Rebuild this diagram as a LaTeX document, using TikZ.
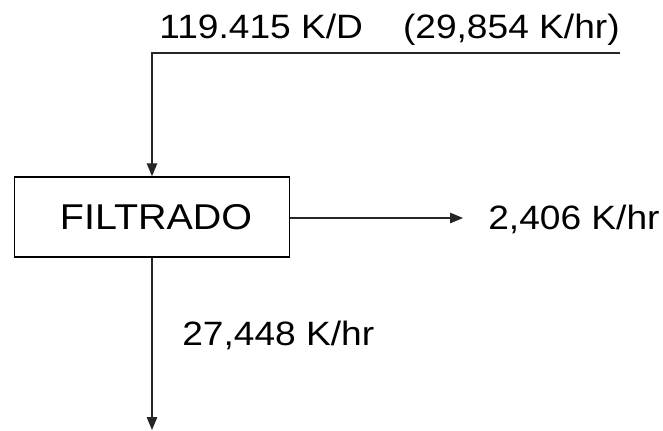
\documentclass[tikz,border=0pt]{standalone}
\usepackage{fontspec}
\setmainfont{Liberation Sans}[FakeStretch=1.1]
\usetikzlibrary{positioning, arrows.meta, calc}
\tikzset{
  flujo/.style={-{Triangle[length=3.2mm, width=2.6mm]}, line width=0.8pt, color=black!85},
  rotulo/.style={font=\fontsize{24}{28}\selectfont, inner sep=0pt}
}
\begin{document}
\begin{tikzpicture}[x=0.025cm, y=-0.025cm]
    \useasboundingbox (0,0) rectangle (663,430);
    % ENTRADA
    \node[rotulo, anchor=base east] (entra) at (620,38) {119.415 K/D\hspace{1cm}(29,854 K/hr)};
    \coordinate (ini) at (620,53);
    \coordinate (esq) at (152,53);
    % FILTRO
    \node[draw, line width=1.1pt, rotulo, font=\fontsize{25.5}{30}\selectfont,
          minimum width=6.875cm, minimum height=2cm] (filtro) at (152,217) {\hspace{0.2cm}FILTRADO};
    \draw[flujo] (ini) -- (esq) -- (filtro.north);
    % SALIDA LATERAL
    \coordinate (lado) at (463,218);
    \draw[flujo] (filtro.east |- lado) -- (lado);
    \node[rotulo, anchor=west] (lateral) at (488,219) {2,406 K/hr};
    % SALIDA INFERIOR
    \coordinate (fondo) at (152,430);
    \draw[flujo] (filtro.south) -- (fondo);
    \node[rotulo, anchor=west] (inferior) at (182,335) {27,448 K/hr};
  \end{tikzpicture}
\end{document}
